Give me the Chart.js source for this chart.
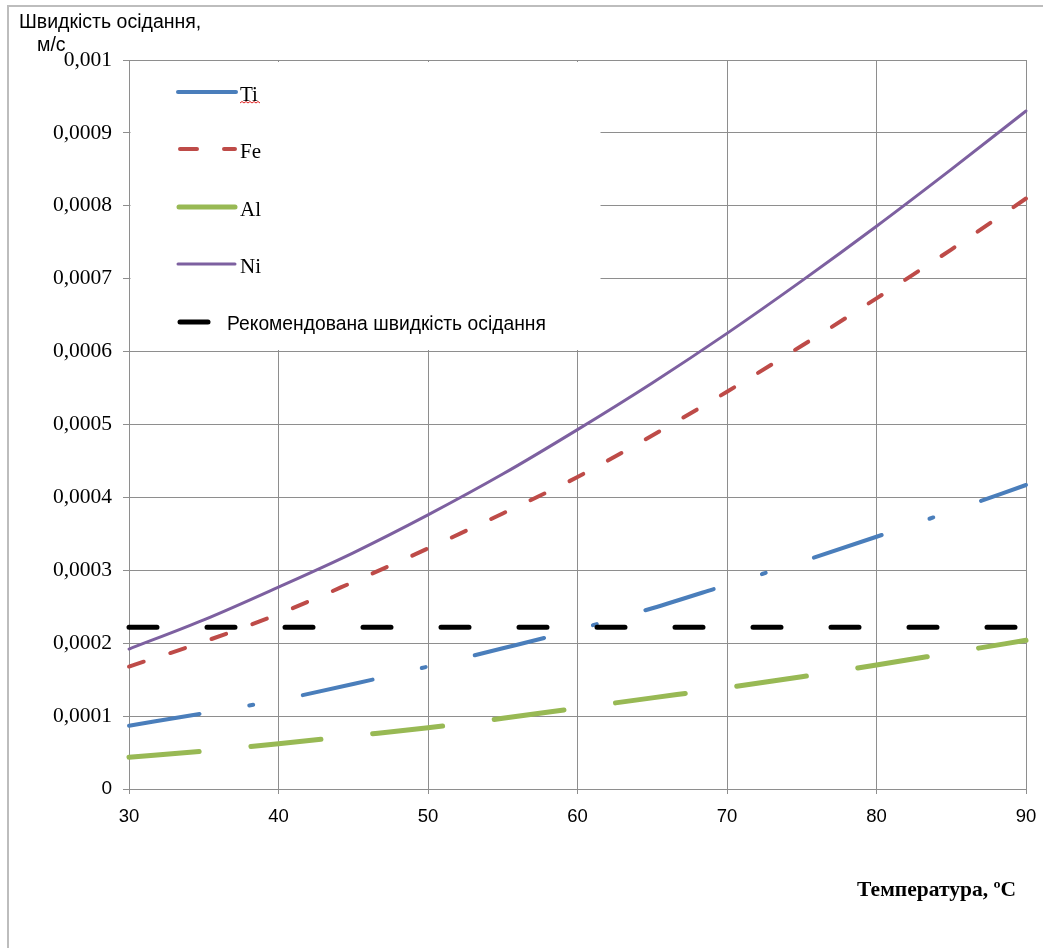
<!DOCTYPE html>
<html>
<head>
<meta charset="utf-8">
<script src="https://cdn.jsdelivr.net/npm/chart.js@4"></script>
<style>
html,body{margin:0;padding:0;background:#fff;}
#wrap{width:1043px;height:948px;position:relative;}
canvas{display:block;}
</style>
</head>
<body>
<div id="wrap"><canvas id="c" width="1043" height="948"></canvas></div>
<script>
// ---- data ----
const temps = [30, 35, 40, 45, 50, 55, 60, 65, 70, 75, 80, 85, 90];
const tiValues = [0.0000868, 0.000104, 0.000122, 0.000144, 0.000168, 0.000193, 0.000219, 0.000248, 0.000280, 0.000312, 0.000346, 0.000381, 0.000417];
const feValues = [0.000168, 0.000202, 0.000240, 0.000284, 0.000330, 0.000378, 0.000428, 0.000485, 0.000545, 0.000608, 0.000673, 0.000740, 0.000810];
const alValues = [0.0000435, 0.000052, 0.000062, 0.000073, 0.000084, 0.000097, 0.000111, 0.000125, 0.000139, 0.000154, 0.000170, 0.000187, 0.000204];
const niValues = [0.000192, 0.000232, 0.000277, 0.000324, 0.000376, 0.000432, 0.000493, 0.000557, 0.000625, 0.000697, 0.000772, 0.000850, 0.000930];
const recTemps = [30, 90];
const recValues = [0.000222, 0.000222];
const seriesNames = ['Ti', 'Fe', 'Al', 'Ni', 'Рекомендована швидкість осідання'];
const yTitleLines = ['Швидкість осідання,', 'м/с'];
const xTitle = 'Температура, \u00BAC';
const xTicks = [30, 40, 50, 60, 70, 80, 90];

const COLORS = { ti: '#4a7ebb', fe: '#be4b48', al: '#98b954', ni: '#7d60a0', rec: '#000000' };
const pts = (xs, ys) => xs.map((x, i) => ({ x: x, y: ys[i] }));

const SERIF = '"Liberation Serif", "Times New Roman", serif';
const SANS = '"Liberation Sans", Arial, sans-serif';

const decor = {
  id: 'decor',
  beforeDatasetsDraw(chart) {
    const a = chart.chartArea, c = chart.ctx;
    c.save();
    c.fillStyle = '#ffffff';
    c.fillRect(a.left + 1.5, a.top + 2, 470, 288);
    c.restore();
  },
  afterDraw(chart) {
    const a = chart.chartArea;
    const c = chart.ctx;
    c.save();
    // outer frame (top and left)
    c.strokeStyle = '#bdbdbd';
    c.lineWidth = 2;
    c.beginPath();
    c.moveTo(8, 948); c.lineTo(8, 6); c.lineTo(1043, 6);
    c.stroke();

    // y title
    c.fillStyle = '#000';
    c.textBaseline = 'middle';
    c.textAlign = 'left';
    c.font = '19.5px ' + SANS;
    c.fillText(yTitleLines[0], 19, 23);
    c.fillText(yTitleLines[1], 37, 46);

    // x title
    c.font = 'bold 21.5px ' + SERIF;
    c.textAlign = 'right';
    c.fillText(xTitle, 1016, 890);

    // legend
    const L = a.left;
    const items = [
      { color: COLORS.ti, w: 4, dash: [], x0: 49, x1: 107, y: 92, tx: 111, ty: 95, font: '21px ' + SERIF },
      { color: COLORS.fe, w: 4, dash: [17, 27], x0: 51, x1: 106, y: 149, tx: 111, ty: 152, font: '21px ' + SERIF },
      { color: COLORS.al, w: 5, dash: [], x0: 50, x1: 106, y: 207, tx: 111, ty: 210, font: '21px ' + SERIF },
      { color: COLORS.ni, w: 3, dash: [], x0: 49, x1: 106, y: 264, tx: 111, ty: 267, font: '21px ' + SERIF },
      { color: COLORS.rec, w: 5, dash: [], x0: 51, x1: 79, y: 322, tx: 98, ty: 325, font: '19.3px ' + SANS }
    ];
    items.forEach((it, i) => {
      c.strokeStyle = it.color;
      c.lineWidth = it.w;
      c.lineCap = 'round';
      c.setLineDash(it.dash);
      c.beginPath();
      c.moveTo(L + it.x0, it.y); c.lineTo(L + it.x1, it.y);
      c.stroke();
      c.setLineDash([]);
      c.fillStyle = '#000';
      c.textAlign = 'left';
      c.textBaseline = 'middle';
      c.font = it.font;
      c.fillText(seriesNames[i], L + it.tx, it.ty);
    });
    // spell-check squiggle under "Ti"
    c.strokeStyle = '#e02020';
    c.lineWidth = 1;
    c.lineCap = 'butt';
    c.beginPath();
    let sx = L + 111, sy = 103;
    c.moveTo(sx, sy);
    for (let k = 1; k <= 10; k++) c.lineTo(sx + k * 2, sy + (k % 2 ? -1.5 : 0));
    c.stroke();
    c.restore();
  }
};

new Chart(document.getElementById('c'), {
  type: 'line',
  data: {
    datasets: [
      { label: seriesNames[0], data: pts(temps, tiValues), borderColor: COLORS.ti, borderWidth: 4,
        borderDash: [71.5, 50.5, 4, 50.5], borderCapStyle: 'round', order: 4, clip: false },
      { label: seriesNames[1], data: pts(temps, feValues), borderColor: COLORS.fe, borderWidth: 4,
        borderDash: [15.5, 28], borderCapStyle: 'round', order: 3, clip: false },
      { label: seriesNames[2], data: pts(temps, alValues), borderColor: COLORS.al, borderWidth: 5,
        borderDash: [70.4, 52], borderCapStyle: 'round', order: 2, clip: false },
      { label: seriesNames[3], data: pts(temps, niValues), borderColor: COLORS.ni, borderWidth: 3,
        borderCapStyle: 'round', order: 1, clip: false },
      { label: seriesNames[4], data: pts(recTemps, recValues), borderColor: COLORS.rec, borderWidth: 5,
        borderDash: [28, 50], borderCapStyle: 'round', order: 0, clip: false }
    ]
  },
  options: {
    responsive: false,
    animation: false,
    devicePixelRatio: 1,
    layout: { padding: { left: 10, right: 17, top: 60, bottom: 0 } },
    elements: {
      point: { radius: 0, hoverRadius: 0 },
      line: { fill: false, cubicInterpolationMode: 'monotone', borderJoinStyle: 'round' }
    },
    plugins: { legend: { display: false }, tooltip: { enabled: false }, title: { display: false } },
    scales: {
      x: {
        type: 'linear', min: 30, max: 90,
        afterBuildTicks: (s) => { s.ticks = xTicks.map(v => ({ value: v })); },
        afterFit: (s) => { s.height = 159; s.paddingLeft = 0; s.paddingRight = 0; },
        grid: { color: '#8e8e8e', lineWidth: 1, tickLength: 5, drawTicks: true },
        border: { color: '#8e8e8e', width: 1 },
        ticks: { color: '#000', padding: 12, maxRotation: 0, font: { family: SANS, size: 18.5 } }
      },
      y: {
        min: 0, max: 0.001,
        ticks: {
          stepSize: 0.0001, color: '#000', padding: 11,
          callback: (v) => { const r = Math.round(v * 1e4) / 1e4; return r === 0 ? '0' : String(r).replace('.', ','); },
          font: (ctx) => (ctx.tick && ctx.tick.value === 0) ? { family: SANS, size: 19 } : { family: SERIF, size: 21.5 }
        },
        afterFit: (s) => { s.width = 119; s.paddingTop = 0; s.paddingBottom = 0; },
        grid: { color: '#8e8e8e', lineWidth: 1, tickLength: 6 },
        border: { color: '#8e8e8e', width: 1 }
      }
    }
  },
  plugins: [decor]
});
</script>
</body>
</html>
